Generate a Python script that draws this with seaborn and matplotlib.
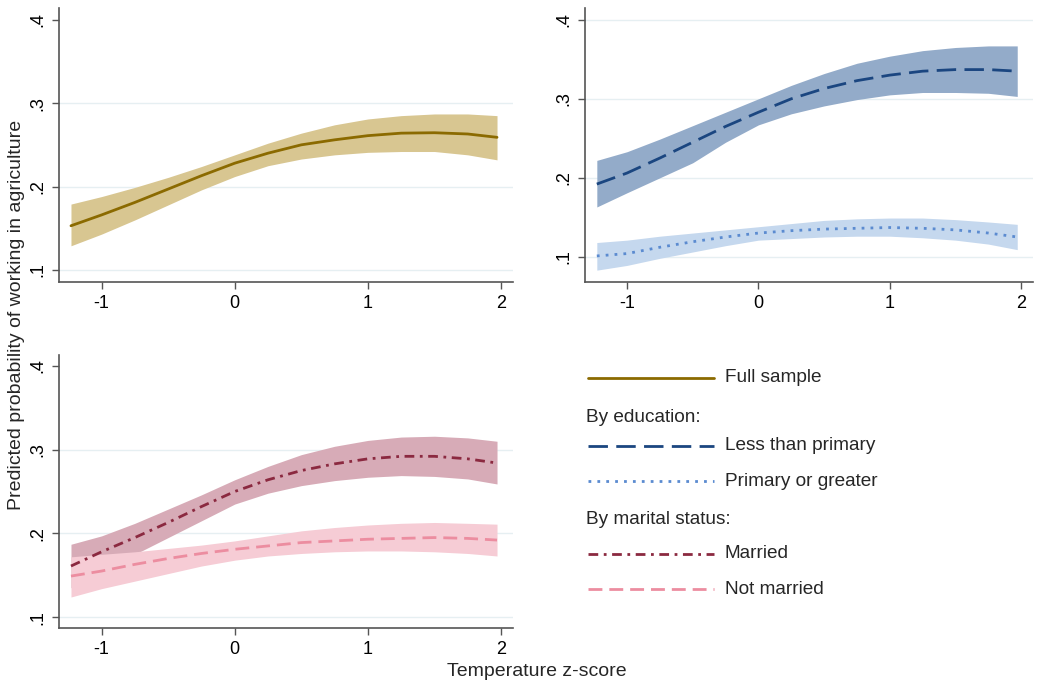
import numpy as np
import pandas as pd
import matplotlib
matplotlib.use('Agg')
import matplotlib.pyplot as plt
from matplotlib.lines import Line2D
import seaborn as sns

# temperature z-score grid
temp = [-1.23, -1, -0.75, -0.5, -0.25, 0, 0.25, 0.5, 0.75, 1, 1.25, 1.5, 1.75, 1.97]

# full sample
full_fit = [.153, .166, .181, .197, .213, .228, .240, .250, .256, .261, .264, .2645, .263, .259]
full_hi = [.179, .188, .199, .211, .224, .238, .252, .264, .274, .281, .285, .287, .287, .285]
full_lo = [.129, .143, .160, .178, .196, .212, .225, .233, .238, .241, .242, .242, .238, .232]

# by education
less_fit = [.192, .206, .225, .245, .265, .283, .300, .313, .323, .330, .335, .337, .337, .335]
less_hi = [.222, .233, .249, .266, .283, .300, .317, .332, .345, .354, .361, .365, .367, .367]
less_lo = [.163, .181, .200, .219, .245, .267, .281, .291, .299, .305, .308, .308, .307, .303]
prim_fit = [.101, .104, .112, .119, .125, .130, .133, .135, .136, .137, .136, .134, .130, .125]
prim_hi = [.118, .121, .126, .130, .134, .138, .142, .146, .148, .149, .149, .147, .144, .141]
prim_lo = [.083, .089, .098, .106, .114, .121, .123, .125, .126, .126, .124, .121, .116, .109]

# by marital status
mar_fit = [.161, .178, .195, .213, .232, .250, .264, .275, .283, .289, .292, .292, .289, .284]
mar_hi = [.187, .197, .212, .229, .246, .264, .280, .294, .304, .311, .315, .316, .314, .310]
mar_lo = [.135, .155, .175, .195, .215, .235, .248, .257, .263, .267, .269, .268, .265, .259]
notm_fit = [.149, .155, .163, .170, .176, .181, .185, .189, .191, .193, .194, .195, .194, .192]
notm_hi = [.172, .175, .178, .182, .186, .191, .197, .203, .207, .210, .212, .213, .212, .211]
notm_lo = [.124, .134, .143, .152, .161, .168, .173, .176, .178, .179, .179, .178, .176, .173]

yticks = [.1, .2, .3, .4]
ytick_labels = ['.1', '.2', '.3', '.4']
xticks = [-1, 0, 1, 2]

sns.set_style('white')
plt.rcParams['font.family'] = ['Liberation Sans', 'DejaVu Sans']

# name: (fit, hi, lo, line colour, band colour, dashes)
series = {
	'Full sample': (full_fit, full_hi, full_lo, '#8b6a00', '#d8c691', ''),
	'Less than primary': (less_fit, less_hi, less_lo, '#1b4680', '#93abc9', (7, 3)),
	'Primary or greater': (prim_fit, prim_hi, prim_lo, '#5b8bd0', '#c5d8ee', (1, 2.2)),
	'Married': (mar_fit, mar_hi, mar_lo, '#8b2940', '#d7abb7', (3.5, 2, 1, 2)),
	'Not married': (notm_fit, notm_hi, notm_lo, '#ec8da0', '#f6ccd5', (5, 2.5)),
}

W, H = 1050, 689
fig = plt.figure(figsize=(W / 100, H / 100), dpi=100)

def px_axes(l, t, r, b):
	return fig.add_axes([l / W, 1 - b / H, (r - l) / W, (b - t) / H])

ax1 = px_axes(59, 8, 513, 282)
ax2 = px_axes(585, 8, 1033, 282)
ax3 = px_axes(59, 355, 513, 628)

panels = [
	(ax1, ['Full sample'], (0.0856, 0.414), [.1, .2, .3]),
	(ax2, ['Less than primary', 'Primary or greater'], (0.068, 0.415), [.1, .2, .3, .4]),
	(ax3, ['Married', 'Not married'], (0.087, 0.413), [.1, .2, .3]),
]

for ax, names, ylim, grid in panels:
	for g in grid:
		ax.axhline(g, color='#e6eff2', lw=1, zorder=0)
	for name in names:
		fit, hi, lo, lc, bc, dash = series[name]
		df = pd.DataFrame({'temp': temp, 'fit': fit})
		ax.fill_between(temp, lo, hi, color=bc, lw=0, zorder=1)
		kw = {} if dash == '' else {'dashes': dash}
		sns.lineplot(data=df, x='temp', y='fit', ax=ax, color=lc, lw=2, zorder=2, **kw)
	ax.set_xlim(-1.32, 2.09)
	ax.set_ylim(*ylim)
	ax.set_xticks(xticks)
	ax.set_xticklabels([str(x) for x in xticks])
	ax.set_yticks(yticks)
	ax.set_yticklabels(ytick_labels, rotation=90, va='center')
	ax.set_xlabel('')
	ax.set_ylabel('')
	for s in ['top', 'right']:
		ax.spines[s].set_visible(False)
	for s in ['left', 'bottom']:
		ax.spines[s].set_color('#555555')
		ax.spines[s].set_linewidth(1.2)
	ax.tick_params(axis='both', direction='out', length=5, width=1, color='#555555',
		labelsize=13, labelcolor='black', left=True, bottom=True, pad=4)

fig.text(17 / W, 1 - 315 / H, 'Predicted probability of working in agriculture',
	rotation=90, ha='center', va='center', fontsize=14)
fig.text(537 / W, 1 - 672 / H, 'Temperature z-score', ha='center', va='center', fontsize=14)

# legend, drawn by hand to get the section headers flush left
legend_rows = [
	('Full sample', 378),
	('Less than primary', 446),
	('Primary or greater', 481),
	('Married', 554),
	('Not married', 589),
]
for name, y in legend_rows:
	lc, dash = series[name][3], series[name][5]
	ln = Line2D([588 / W, 714 / W], [1 - y / H, 1 - y / H], color=lc, lw=2,
		transform=fig.transFigure)
	if dash != '':
		ln.set_dashes(dash)
	fig.add_artist(ln)
	fig.text(725 / W, 1 - y / H, name, ha='left', va='center', fontsize=13.7)
fig.text(586 / W, 1 - 418 / H, 'By education:', ha='left', va='center', fontsize=13.7)
fig.text(586 / W, 1 - 520 / H, 'By marital status:', ha='left', va='center', fontsize=13.7)

plt.savefig('out.png', dpi=100)
